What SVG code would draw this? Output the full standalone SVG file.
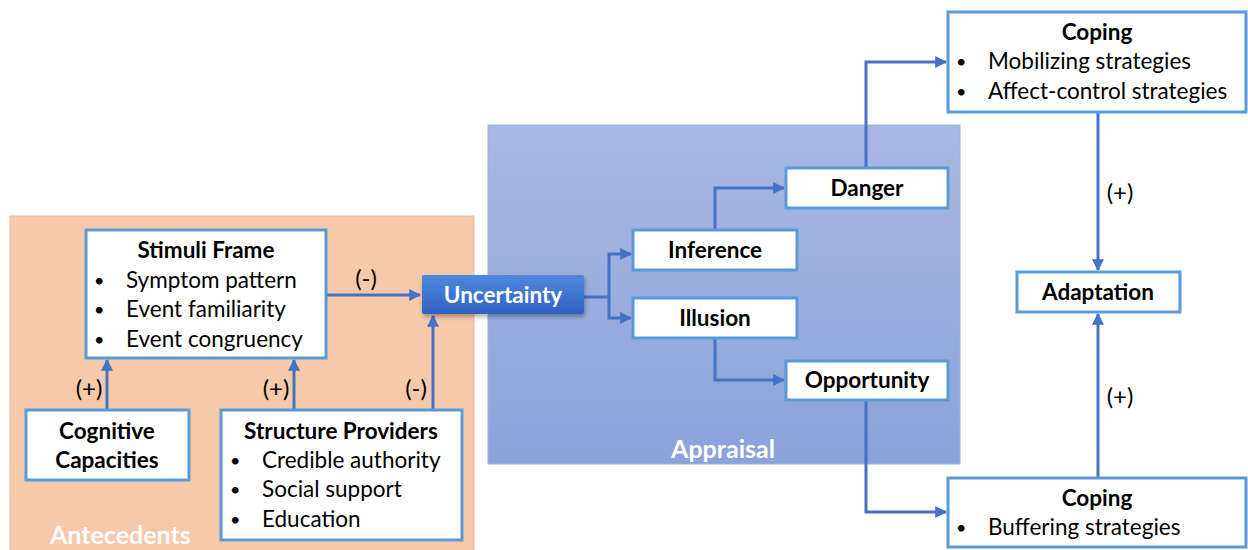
<svg xmlns="http://www.w3.org/2000/svg" width="1248" height="550" viewBox="0 0 1248 550">
<defs>
<linearGradient id="apg" x1="0" y1="0" x2="0" y2="1"><stop offset="0" stop-color="#A9B8E2"/><stop offset="1" stop-color="#8AA3DA"/></linearGradient>
<linearGradient id="ung" x1="0" y1="0" x2="0" y2="1"><stop offset="0" stop-color="#5088DC"/><stop offset="1" stop-color="#2F62C2"/></linearGradient>
<filter id="sh" x="-10%" y="-20%" width="130%" height="160%"><feDropShadow dx="1" dy="3" stdDeviation="2" flood-color="#000" flood-opacity="0.3"/></filter>
<marker id="ah" viewBox="0 0 10 10" refX="9" refY="5" markerWidth="4" markerHeight="4" orient="auto-start-reverse"><path d="M0,0 L10,5 L0,10 z" fill="#4472C4"/></marker>
<style>
.box{fill:#fff;stroke:#5B9BD5;stroke-width:3}
.t{font-family:Lato,"Liberation Sans",sans-serif;font-size:22.5px;fill:#000}
.bu{font-size:18px}
.b{font-weight:bold;text-anchor:middle}
.c{stroke:#4472C4;stroke-width:3;fill:none;marker-end:url(#ah)}
.lbl{font-family:Lato,"Liberation Sans",sans-serif;font-size:24px;fill:#000;text-anchor:middle}
.pn{font-family:Lato,"Liberation Sans",sans-serif;font-size:25px;font-weight:bold;fill:#fff}
</style>
</defs>
<rect width="1248" height="550" fill="#fff"/>
<g id="antecedents-panel"><rect x="10" y="216" width="464" height="340" fill="#F6C9AA" stroke="#F0B990" stroke-width="1"/><text class="pn" x="50" y="544">Antecedents</text></g>
<g id="appraisal-panel"><rect x="488" y="125" width="472" height="339" fill="url(#apg)" stroke="#9DB0E0" stroke-width="1"/><text class="pn" x="723" y="458" text-anchor="middle">Appraisal</text></g>
<g id="connectors">
<path class="c" d="M326,295 H420"/>
<path class="c" d="M107,410 V360"/>
<path class="c" d="M294,410 V360"/>
<path class="c" d="M433,410 V316"/>
<path class="c" d="M584,297 H609 V254 H631"/>
<path class="c" d="M609,297 V318 H631"/>
<path class="c" d="M715,230 V188 H784"/>
<path class="c" d="M715,338 V380 H784"/>
<path class="c" d="M866,168 V62 H946"/>
<path class="c" d="M866,400 V512 H946"/>
<path class="c" d="M1098,112 V270"/>
<path class="c" d="M1098,478 V314"/>
<text class="lbl" x="366" y="287">(-)</text>
<text class="lbl" x="89" y="397">(+)</text>
<text class="lbl" x="276" y="397">(+)</text>
<text class="lbl" x="416" y="397">(-)</text>
<text class="lbl" x="1120" y="201">(+)</text>
<text class="lbl" x="1120" y="405">(+)</text>
</g>
<g id="stimuli-frame"><rect class="box" x="86" y="230" width="240" height="128"/>
<text class="t b" x="206" y="258">Stimuli Frame</text>
<text class="t bu" x="94" y="287">•</text><text class="t" x="126" y="288">Symptom pattern</text>
<text class="t bu" x="94" y="316">•</text><text class="t" x="126" y="317">Event familiarity</text>
<text class="t bu" x="94" y="346">•</text><text class="t" x="126" y="347">Event congruency</text></g>
<g id="cognitive-capacities"><rect class="box" x="26" y="410" width="163" height="70"/>
<text class="t b" x="107" y="439">Cognitive</text><text class="t b" x="107" y="468">Capacities</text></g>
<g id="structure-providers"><rect class="box" x="221" y="410" width="241" height="130"/>
<text class="t b" x="341" y="439">Structure Providers</text>
<text class="t bu" x="230" y="467">•</text><text class="t" x="262" y="468">Credible authority</text>
<text class="t bu" x="230" y="496">•</text><text class="t" x="262" y="497">Social support</text>
<text class="t bu" x="230" y="526">•</text><text class="t" x="262" y="527">Education</text></g>
<g id="uncertainty"><rect x="422" y="275" width="162" height="39" rx="2" fill="url(#ung)" filter="url(#sh)"/>
<text class="t b" x="503" y="303" style="fill:#fff">Uncertainty</text></g>
<g id="inference"><rect class="box" x="633" y="230" width="164" height="40"/><text class="t b" x="715" y="258">Inference</text></g>
<g id="illusion"><rect class="box" x="633" y="298" width="164" height="40"/><text class="t b" x="715" y="326">Illusion</text></g>
<g id="danger"><rect class="box" x="786" y="168" width="162" height="40"/><text class="t b" x="867" y="196">Danger</text></g>
<g id="opportunity"><rect class="box" x="786" y="361" width="162" height="39"/><text class="t b" x="867" y="388">Opportunity</text></g>
<g id="coping-top"><rect class="box" x="948" y="12" width="298" height="100"/>
<text class="t b" x="1097" y="40">Coping</text>
<text class="t bu" x="956" y="68">•</text><text class="t" x="988" y="69">Mobilizing strategies</text>
<text class="t bu" x="956" y="98">•</text><text class="t" x="988" y="99">Affect-control strategies</text></g>
<g id="adaptation"><rect class="box" x="1017" y="272" width="163" height="40"/><text class="t b" x="1098" y="300">Adaptation</text></g>
<g id="coping-bottom"><rect class="box" x="948" y="478" width="298" height="69"/>
<text class="t b" x="1097" y="506">Coping</text>
<text class="t bu" x="956" y="534">•</text><text class="t" x="988" y="535">Buffering strategies</text></g>
</svg>
